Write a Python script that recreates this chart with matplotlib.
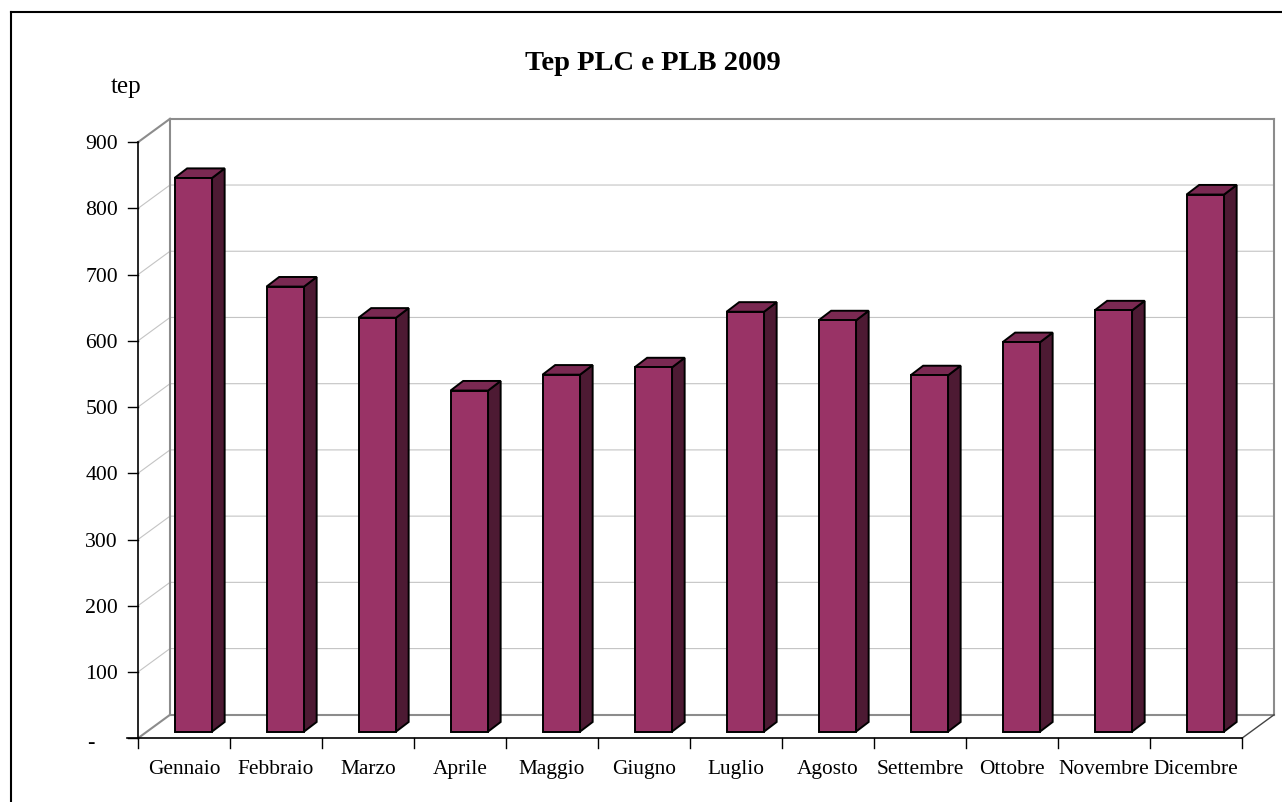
import matplotlib
matplotlib.use('Agg')
import matplotlib.pyplot as plt
from matplotlib.patches import Polygon

months = ['Gennaio', 'Febbraio', 'Marzo', 'Aprile', 'Maggio', 'Giugno', 'Luglio',
          'Agosto', 'Settembre', 'Ottobre', 'Novembre', 'Dicembre']
tep = [836, 672, 625, 515, 539, 550, 634, 621, 538, 588, 636, 811]
y_ticks = [0, 100, 200, 300, 400, 500, 600, 700, 800, 900]
y_labels = ['-', '100', '200', '300', '400', '500', '600', '700', '800', '900']

W, H = 1282, 803
plt.rcParams['font.family'] = ['Liberation Serif', 'DejaVu Serif']

fig = plt.figure(figsize=(W / 100, H / 100), dpi=100)
# front plane of the fake 3D box, in pixels
left, right, bottom, top = 138, 1242, 739.2, 143.2
ax = fig.add_axes([left / W, 1 - bottom / H, (right - left) / W, (bottom - top) / H])
ax.set_xlim(0, 12)
ax.set_ylim(0, 900)
ax.axis('off')

# one pixel in data units
px_x = 12 / (right - left)
px_y = 900 / (bottom - top)
depth_x, depth_y = 32 * px_x, 23.4 * px_y

# back walls and gridlines
grey = '#8c8c8c'
light = '#c4c4c4'
for t in y_ticks[1:-1]:
    ax.plot([0, depth_x, 12 + depth_x], [t, t + depth_y, t + depth_y], color=light, lw=0.8, clip_on=False, zorder=1)
ax.plot([depth_x, depth_x], [depth_y, 900 + depth_y], color=grey, lw=1.5, clip_on=False, zorder=2)
ax.plot([12 + depth_x, 12 + depth_x], [depth_y, 900 + depth_y], color=grey, lw=1.5, clip_on=False, zorder=2)
ax.plot([depth_x, 12 + depth_x], [900 + depth_y, 900 + depth_y], color=grey, lw=1.5, clip_on=False, zorder=2)
ax.plot([depth_x, 12 + depth_x], [depth_y, depth_y], color=grey, lw=1.5, clip_on=False, zorder=2)
ax.plot([0, depth_x], [900, 900 + depth_y], color=grey, lw=1.5, clip_on=False, zorder=2)
ax.plot([0, depth_x], [0, depth_y], color=grey, lw=1.5, clip_on=False, zorder=2)
ax.plot([12, 12 + depth_x], [0, depth_y], color='#444444', lw=1.0, clip_on=False, zorder=2)

# front axes
ax.plot([0, 0], [0, 900], color='black', lw=1.2, clip_on=False, zorder=3)
ax.plot([-11 * px_x, 12], [0, 0], color='black', lw=1.2, clip_on=False, zorder=3)
for t, lab in zip(y_ticks, y_labels):
    ax.plot([-10 * px_x, 0], [t, t], color='black', lw=1.0, clip_on=False, zorder=3)
    if lab == '-':
        ax.text(-47.5 * px_x, t - 4 * px_y, lab, ha='center', va='center', fontsize=16, zorder=3)
    else:
        ax.text(-20 * px_x, t - 1.5 * px_y, lab, ha='right', va='center', fontsize=15.7, zorder=3)
for i in range(13):
    ax.plot([i, i], [0, -10 * px_y], color='black', lw=1.0, clip_on=False, zorder=3)
for i, m in enumerate(months):
    ax.text(i + 0.5, -34.7 * px_y, m, ha='center', va='baseline', fontsize=15.4, zorder=3)

# bars, drawn as front, top and side faces
front_c = '#993366'
top_c = '#7a2952'
side_c = '#4d1a33'
bar_w = 37.5 * px_x
off_x, off_y = 9.3 * px_x, 6.6 * px_y
bar_dx, bar_dy = 12.6 * px_x, 9.6 * px_y
for i, v in enumerate(tep):
    x0 = i + 0.5 - bar_w / 2 + off_x
    x1 = x0 + bar_w
    y0 = off_y
    y1 = off_y + v
    front = [(x0, y0), (x1, y0), (x1, y1), (x0, y1)]
    roof = [(x0, y1), (x1, y1), (x1 + bar_dx, y1 + bar_dy), (x0 + bar_dx, y1 + bar_dy)]
    side = [(x1, y0), (x1 + bar_dx, y0 + bar_dy), (x1 + bar_dx, y1 + bar_dy), (x1, y1)]
    for pts, c in [(side, side_c), (roof, top_c), (front, front_c)]:
        ax.add_patch(Polygon(pts, closed=True, facecolor=c, edgecolor='black', lw=1.4,
                             joinstyle='miter', clip_on=False, zorder=4))

# titles and outer frame
fig.text(653 / W, 1 - 64 / H, 'Tep PLC e PLB 2009', ha='center', va='center', fontsize=20.5, fontweight='bold')
fig.text(126 / W, 1 - 87 / H, 'tep', ha='center', va='center', fontsize=18)
fig.add_artist(plt.Line2D([11 / W, 1], [1 - 13 / H, 1 - 13 / H], color='black', lw=1.5))
fig.add_artist(plt.Line2D([11 / W, 11 / W], [0, 1 - 13 / H], color='black', lw=1.5))

fig.savefig('out.png', dpi=100, facecolor='white')
